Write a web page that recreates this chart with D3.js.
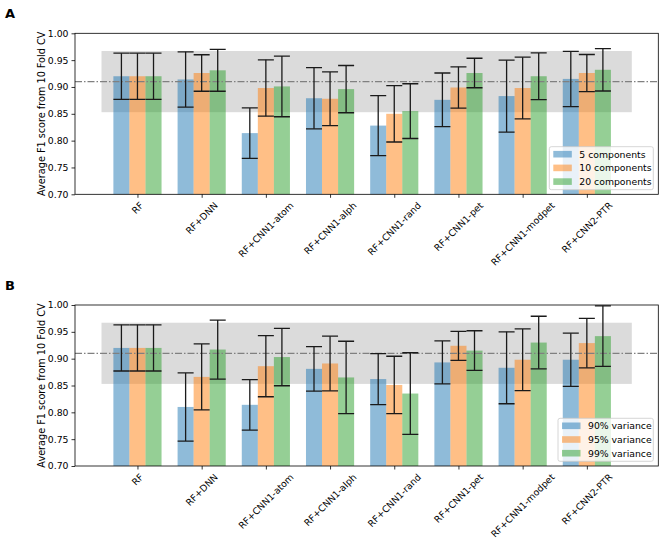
<!DOCTYPE html>
<html>
<head>
<meta charset="utf-8">
<script src="https://cdn.jsdelivr.net/npm/d3@7"></script>
<style>
  body { margin: 0; background: #fff; }
  text { font-family: "DejaVu Sans", sans-serif; }
</style>
</head>
<body>
<svg id="chart" width="664" height="543"></svg>
<script>
const models = ["RF", "RF+DNN", "RF+CNN1-atom", "RF+CNN1-alph", "RF+CNN1-rand", "RF+CNN1-pet", "RF+CNN1-modpet", "RF+CNN2-PTR"];
const yTicks = [0.70, 0.75, 0.80, 0.85, 0.90, 0.95, 1.00];
const colors = ["#1f77b4", "#ff7f0e", "#2ca02c"];

// panel A: number of components
const seriesA = ["5 components", "10 components", "20 components"];
const meansA = [
    [0.920, 0.914, 0.814, 0.879, 0.828, 0.876, 0.883, 0.915],
    [0.920, 0.926, 0.898, 0.878, 0.850, 0.899, 0.898, 0.926],
    [0.920, 0.931, 0.901, 0.896, 0.855, 0.926, 0.920, 0.932]
];
const sdA = [
    [0.043, 0.0515, 0.047, 0.057, 0.056, 0.050, 0.067, 0.0515],
    [0.043, 0.034, 0.0525, 0.050, 0.0525, 0.0385, 0.0575, 0.0345],
    [0.043, 0.039, 0.0565, 0.044, 0.051, 0.0275, 0.0435, 0.0395]
];

// panel B: explained variance
const seriesB = ["90% variance", "95% variance", "99% variance"];
const meansB = [
    [0.920, 0.810, 0.814, 0.881, 0.862, 0.893, 0.883, 0.898],
    [0.920, 0.866, 0.886, 0.891, 0.851, 0.924, 0.898, 0.929],
    [0.920, 0.917, 0.903, 0.865, 0.835, 0.915, 0.930, 0.942]
];
const sdB = [
    [0.043, 0.0635, 0.047, 0.0415, 0.0475, 0.040, 0.067, 0.0495],
    [0.043, 0.0615, 0.057, 0.051, 0.0535, 0.027, 0.0575, 0.046],
    [0.043, 0.055, 0.0535, 0.0675, 0.076, 0.037, 0.049, 0.0565]
];

// reference band (baseline RF mean +- sd)
const baseline = 0.91;
const bandY = [0.853, 0.967];
const bandX = [-0.56, 7.70];

const svg = d3.select('#chart');
const left = 75, right = 658.3;
const barW = 0.25;
const fs = 9.3;

// x limits like matplotlib: band extent plus 5% margin
const span = bandX[1] - bandX[0];
const xDomain = [bandX[0] - span * 0.05, bandX[1] + span * 0.05];

function drawPanel(top, bottom, letter, series, means, sds, legendBox) {
    const g = svg.append('g');
    const x = d3.scaleLinear().domain(xDomain).range([left, right]);
    const y = d3.scaleLinear().domain([0.70, 1.00]).range([bottom, top]);

    const clip = 'clip' + letter;
    g.append('clipPath').attr('id', clip)
        .append('rect').attr('x', left).attr('y', top)
        .attr('width', right - left).attr('height', bottom - top);
    const plot = g.append('g').attr('clip-path', `url(#${clip})`);

    // grey band
    plot.append('rect')
        .attr('x', x(bandX[0])).attr('y', y(bandY[1]))
        .attr('width', x(bandX[1]) - x(bandX[0]))
        .attr('height', y(bandY[0]) - y(bandY[1]))
        .attr('fill', '#dbdbdb');

    // bars
    series.forEach((s, k) => {
        plot.selectAll(null).data(means[k]).enter().append('rect')
            .attr('x', (d, i) => x(i + (k - 1) * barW - barW / 2))
            .attr('y', d => y(d))
            .attr('width', x(barW) - x(0))
            .attr('height', d => y(0.70) - y(d) + 2)
            .attr('fill', colors[k])
            .attr('fill-opacity', 0.5);
    });

    // baseline dash-dot
    plot.append('line')
        .attr('x1', left).attr('x2', right)
        .attr('y1', y(baseline)).attr('y2', y(baseline))
        .attr('stroke', '#808080').attr('stroke-width', 1.2)
        .attr('stroke-dasharray', '7,2,1.5,2');

    // error bars
    const cap = 8;
    series.forEach((s, k) => {
        means[k].forEach((m, i) => {
            const cx = x(i + (k - 1) * barW);
            const lo = y(m - sds[k][i]), hi = y(m + sds[k][i]);
            const eg = plot.append('g').attr('stroke', '#1a1a1a').attr('stroke-width', 1.3);
            eg.append('line').attr('x1', cx).attr('x2', cx).attr('y1', lo).attr('y2', hi);
            eg.append('line').attr('x1', cx - cap).attr('x2', cx + cap).attr('y1', lo).attr('y2', lo);
            eg.append('line').attr('x1', cx - cap).attr('x2', cx + cap).attr('y1', hi).attr('y2', hi);
        });
    });

    // frame
    g.append('rect')
        .attr('x', left).attr('y', top)
        .attr('width', right - left).attr('height', bottom - top)
        .attr('fill', 'none').attr('stroke', '#000').attr('stroke-width', 0.8);

    // y axis
    const yAxis = g.append('g')
        .attr('transform', `translate(${left},0)`)
        .call(d3.axisLeft(y).tickValues(yTicks).tickFormat(d3.format('.2f')).tickSize(3.5).tickPadding(3));
    yAxis.select('.domain').remove();
    yAxis.selectAll('text').attr('font-size', fs).attr('fill', '#000').style('font-family', '"DejaVu Sans", sans-serif');
    yAxis.selectAll('line').attr('stroke-width', 0.8);

    // x ticks
    const xAxis = g.append('g')
        .attr('transform', `translate(0,${bottom})`)
        .call(d3.axisBottom(x).tickValues(d3.range(models.length)).tickFormat('').tickSize(3.5));
    xAxis.select('.domain').remove();
    xAxis.selectAll('line').attr('stroke-width', 0.8);

    // rotated category labels, bbox centred on tick
    models.forEach((m, i) => {
        const t = g.append('text')
            .attr('font-size', fs)
            .attr('text-anchor', 'middle')
            .attr('dominant-baseline', 'central')
            .text(m);
        const L = t.node().getComputedTextLength();
        const h = fs * 1.15;
        const halfH = (L / 2 + h / 2) * Math.SQRT1_2;
        const cy = bottom + 5.5 + halfH;
        t.attr('transform', `translate(${x(i)},${cy}) rotate(-45)`);
    });

    // y label
    g.append('text')
        .attr('transform', `translate(41,${(top + bottom) / 2}) rotate(-90)`)
        .attr('text-anchor', 'middle')
        .attr('dominant-baseline', 'central')
        .attr('font-size', fs + 0.4)
        .text('Average F1 score from 10 Fold CV');

    // panel letter
    g.append('text')
        .attr('x', 5).attr('y', top - 15)
        .attr('font-size', 13).attr('font-weight', 'bold')
        .text(letter);

    // legend
    const lg = g.append('g');
    lg.append('rect')
        .attr('x', legendBox.x).attr('y', legendBox.y)
        .attr('width', right - 5 - legendBox.x).attr('height', 43)
        .attr('rx', 2)
        .attr('fill', '#fff').attr('fill-opacity', 0.8)
        .attr('stroke', '#cccccc').attr('stroke-width', 0.8);
    series.forEach((s, k) => {
        const ry = legendBox.y + 7.5 + k * 13.7;
        lg.append('rect')
            .attr('x', legendBox.x + 4).attr('y', ry - 3.3)
            .attr('width', 18.5).attr('height', 6.6)
            .attr('fill', colors[k]).attr('fill-opacity', 0.5);
        lg.append('text')
            .attr('x', legendBox.x + 30).attr('y', ry)
            .attr('dominant-baseline', 'central')
            .attr('font-size', fs)
            .text(s);
    });
}

drawPanel(33.3, 194.3, 'A', seriesA, meansA, sdA, { x: 549.3, y: 146.7 });
drawPanel(305, 466, 'B', seriesB, meansB, sdB, { x: 558, y: 418.3 });
</script>
</body>
</html>
